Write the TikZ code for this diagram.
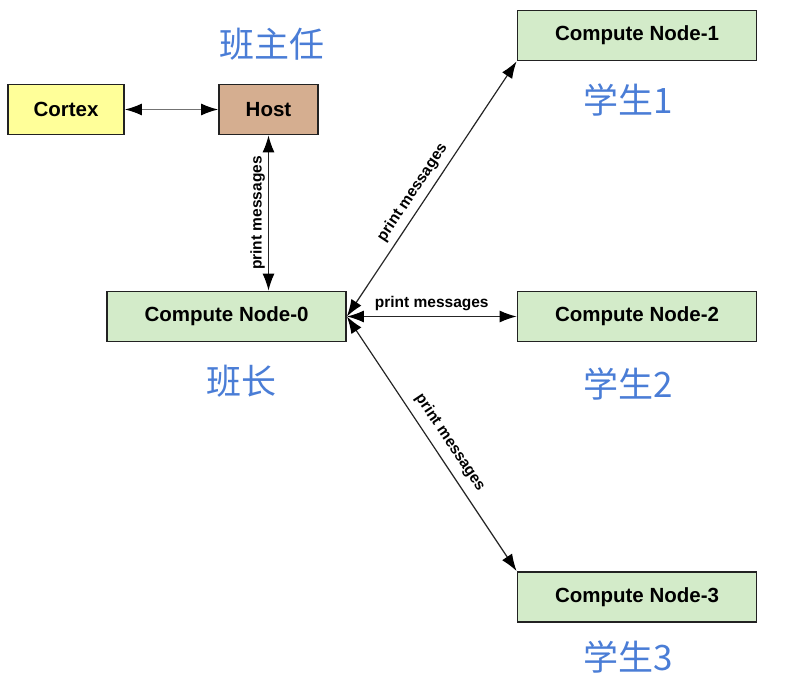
\documentclass[tikz,border=0pt]{standalone}
\usepackage{fontspec}
\setmainfont{Liberation Sans}
\newfontfamily\cjk{Noto Sans CJK SC}
\usepackage{xcolor}
\usetikzlibrary{positioning,arrows.meta,calc}
\definecolor{cortexyellow}{HTML}{FFFF99}
\definecolor{hosttan}{HTML}{D5AE90}
\definecolor{nodegreen}{HTML}{D3EBC9}
\definecolor{rolblue}{HTML}{4A7DD6}
\definecolor{edgegray}{HTML}{222222}

\begin{document}
\begin{tikzpicture}[
  x=1pt, y=1pt,
  block/.style={rectangle, draw=edgegray, line width=1.8pt, minimum height=50pt, inner sep=0pt,
    font=\fontsize{20.5}{24}\selectfont\bfseries},
  cnode/.style={block, fill=nodegreen, minimum width=239pt},
  arrow/.style={{Latex[length=17pt,width=12pt,color=black]}-{Latex[length=17pt,width=12pt,color=black]},
    line width=1.2pt, draw=black!85},
  msg/.style={font=\fontsize{15.5}{18}\selectfont\bfseries, inner sep=3pt},
  role/.style={font=\cjk\fontsize{35}{40}\selectfont, text=rolblue}
]
  \useasboundingbox (0,0) rectangle (786,-684);

  % Host side
  \node[block, fill=cortexyellow, minimum width=116pt] (cortex) at (66,-109.5) {Cortex};
  \node[block, fill=hosttan, minimum width=99pt] (host) at (268.5,-109.5) {Host};

  % Compute nodes
  \node[cnode] (cn0) at (226.5,-316.5) {Compute Node-0};
  \node[cnode] (cn1) at (637,-35.5) {Compute Node-1};
  \node[cnode] (cn2) at (637,-316.5) {Compute Node-2};
  \node[cnode] (cn3) at (637,-597) {Compute Node-3};

  % Roles
  \node[role] (rhost) at (272,-44) {班主任};
  \node[role] (r0) at (241,-381) {班长};
  \node[role] (r1) at (628,-100) {学生1};
  \node[role] (r2) at (628,-384) {学生2};
  \node[role] (r3) at (628,-657) {学生3};

  % Links
  \draw[arrow, draw=black!55] (cortex) -- (host);
  \draw[arrow] (host.south) -- node[msg, rotate=90, above] {print messages} (host.south |- cn0.north);
  \draw[arrow] (cn0.east) -- node[msg, sloped, above, pos=0.455, inner sep=6pt] {print messages} (cn1.south west);
  \draw[arrow] (cn0.east) -- node[msg, above, inner sep=5pt] {print messages} (cn2.west);
  \draw[arrow] (cn0.east) -- node[msg, sloped, above, pos=0.53, inner sep=8pt] {print messages} (cn3.north west);
\end{tikzpicture}
\end{document}
